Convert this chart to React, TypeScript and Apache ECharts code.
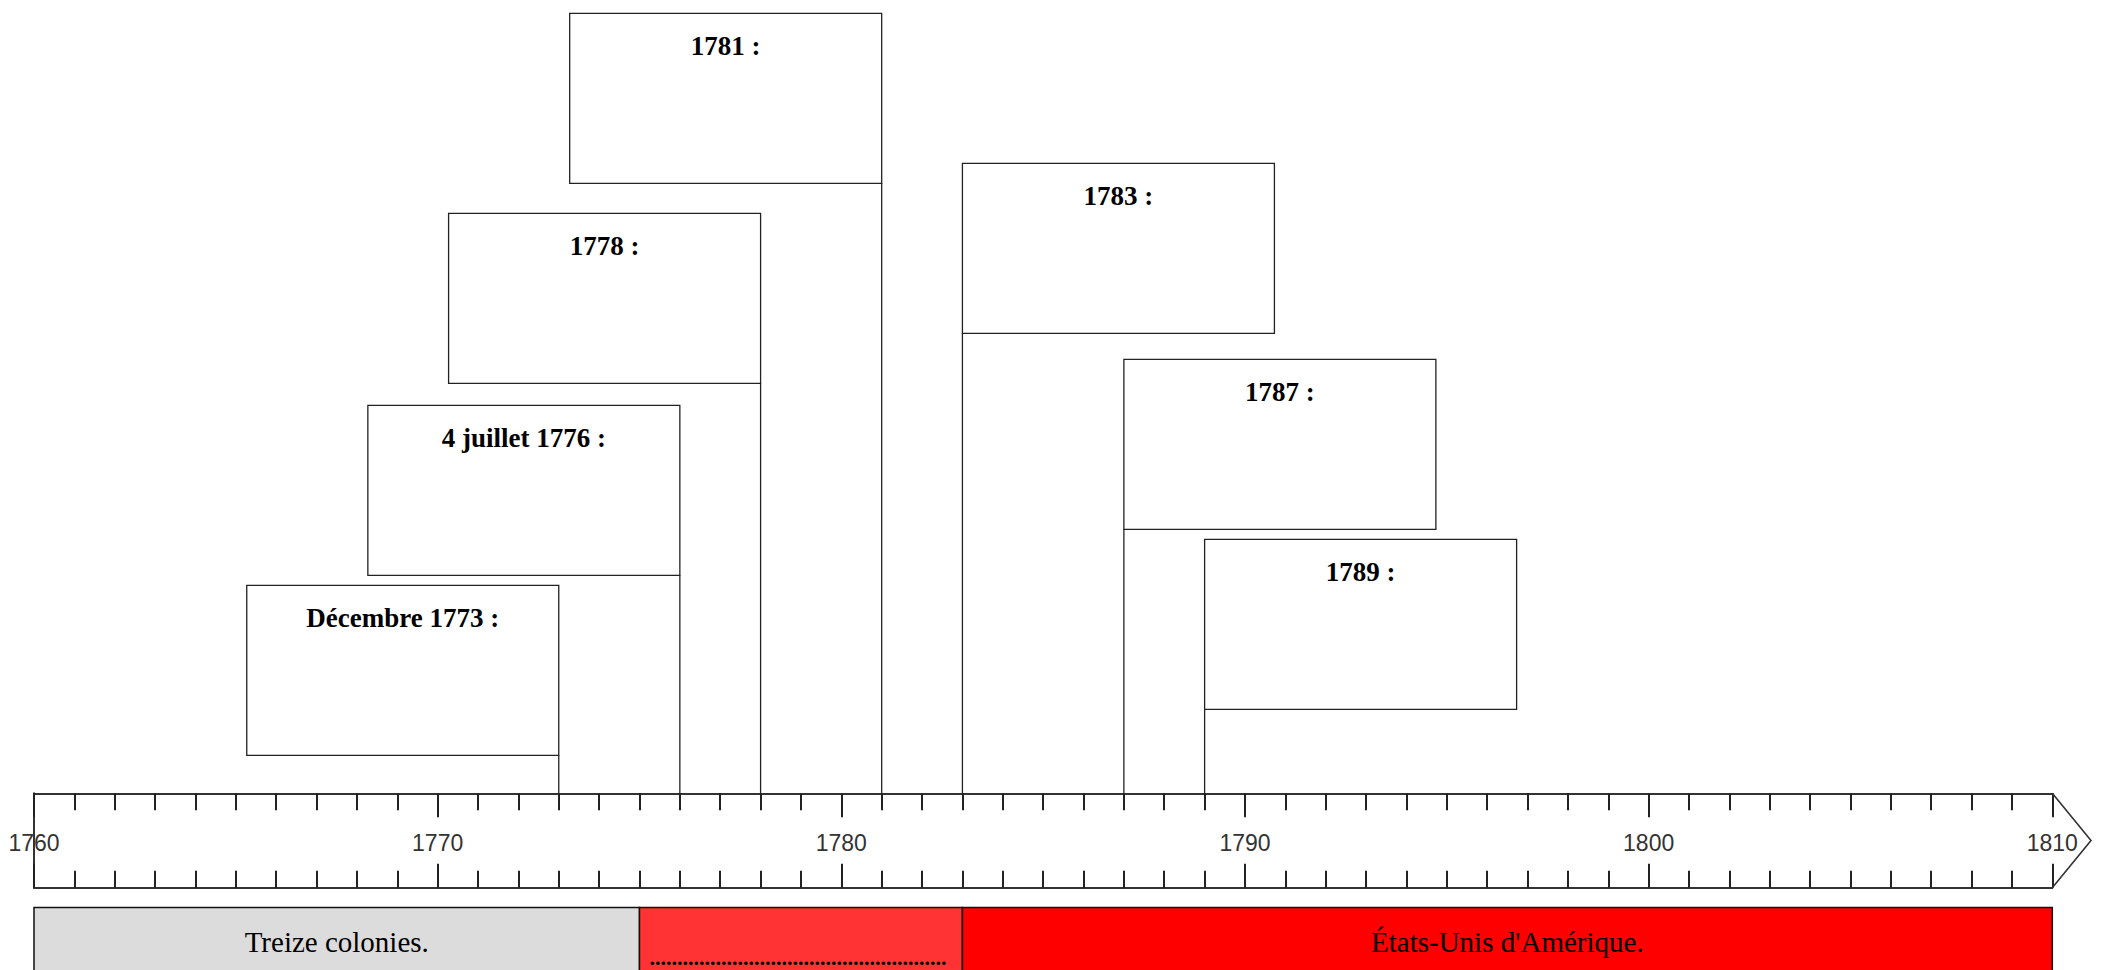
import React, { useEffect, useRef } from "react";
import * as echarts from "echarts";

// ---- data ----
const axisMin = 1760;
const axisMax = 1810;
const majorStep = 10;
const eventYears = [1773, 1776, 1778, 1781, 1783, 1787, 1789];
const eventLabels = [
  "Décembre 1773 :",
  "4 juillet 1776 :",
  "1778 :",
  "1781 :",
  "1783 :",
  "1787 :",
  "1789 :",
];
const periodStarts = [1760, 1775, 1783];
const periodEnds = [1775, 1783, 1810];
const periodLabels = ["Treize colonies.", "", "États-Unis d'Amérique."];
const blankFill = "......................................................";

// ---- layout (not data) ----
const boxLift = [38, 218, 410, 610, 460, 264, 84]; // px of box bottom above the ribbon
const boxW = 312;
const boxH = 170;
const periodColors = ["#DCDCDC", "#FF3333", "#FF0000"];
const ribbonTop = 793.3;
const ribbonH = 94.4;
const gridLeft = 34;
const gridWidth = 2018.3;
const bandTop = 907.5;

const serif = "'Liberation Serif', 'Times New Roman', serif";
const sansNarrow = "'Liberation Sans Narrow', 'Arial Narrow', 'Liberation Sans', Arial, sans-serif";

export default function App() {
  const ref = useRef<HTMLDivElement>(null);

  useEffect(() => {
    if (!ref.current) return;
    const chart = echarts.init(ref.current, undefined, { renderer: "svg" });

    const tickAxisCommon = {
      type: "value",
      gridIndex: 1,
      min: axisMin,
      max: axisMax,
      interval: majorStep,
      splitLine: { show: false },
      axisLine: { show: true, onZero: false, lineStyle: { color: "#333", width: 2 } },
      axisTick: { show: true, inside: true, length: 24, lineStyle: { color: "#222", width: 2 } },
      minorTick: { show: true, splitNumber: 10, length: 17, lineStyle: { color: "#222", width: 2 } },
      minorSplitLine: { show: false },
    };

    const option: any = {
      animation: false,
      backgroundColor: "#ffffff",
      grid: [
        { left: gridLeft, top: 0, width: gridWidth, height: ribbonTop, outerBoundsMode: "none" },
        { left: gridLeft, top: ribbonTop, width: gridWidth, height: ribbonH, outerBoundsMode: "none" },
        { left: gridLeft, top: bandTop, width: gridWidth, height: 70, outerBoundsMode: "none" },
      ],
      xAxis: [
        { type: "value", gridIndex: 0, min: axisMin, max: axisMax, show: false },
        {
          ...tickAxisCommon,
          position: "top",
          axisLabel: {
            show: true,
            inside: true,
            margin: 50,
            verticalAlign: "middle",
            fontSize: 23,
            fontFamily: sansNarrow,
            color: "#333",
            showMinLabel: true,
            showMaxLabel: true,
            formatter: (v: number) => String(v),
          },
        },
        {
          ...tickAxisCommon,
          position: "bottom",
          axisLabel: { show: false },
        },
        { type: "value", gridIndex: 2, min: axisMin, max: axisMax, show: false },
      ],
      yAxis: [
        { type: "value", gridIndex: 0, min: 0, max: ribbonTop, show: false },
        {
          type: "value",
          gridIndex: 1,
          min: 0,
          max: 1,
          axisLine: { show: true, onZero: false, lineStyle: { color: "#333", width: 2 } },
          axisTick: { show: false },
          axisLabel: { show: false },
          splitLine: { show: false },
        },
        { type: "value", gridIndex: 2, min: 0, max: 1, show: false },
      ],
      series: [
        {
          type: "custom",
          name: "events",
          xAxisIndex: 0,
          yAxisIndex: 0,
          clip: false,
          data: eventYears.map((y, i) => [y, boxLift[i]]),
          renderItem: (params: any, api: any) => {
            const year = api.value(0);
            const lift = api.value(1);
            const pBottom = api.coord([year, lift]);
            const pAxis = api.coord([year, 0]);
            const rightAligned = year < 1782;
            const x0 = rightAligned ? pBottom[0] - boxW : pBottom[0];
            const top = pBottom[1] - boxH;
            return {
              type: "group",
              children: [
                {
                  type: "rect",
                  shape: { x: x0, y: top, width: boxW, height: boxH },
                  style: { fill: "#ffffff", stroke: "#222", lineWidth: 1.3 },
                },
                {
                  type: "line",
                  shape: { x1: pBottom[0], y1: pBottom[1], x2: pAxis[0], y2: pAxis[1] },
                  style: { stroke: "#222", lineWidth: 1.3 },
                },
                {
                  type: "text",
                  style: {
                    text: eventLabels[params.dataIndex],
                    x: x0 + boxW / 2,
                    y: top + 33,
                    fill: "#000",
                    fontSize: 27,
                    fontWeight: "bold",
                    fontFamily: serif,
                    align: "center",
                    verticalAlign: "middle",
                  },
                },
              ],
            };
          },
        },
        {
          type: "custom",
          name: "arrow",
          xAxisIndex: 1,
          yAxisIndex: 1,
          clip: false,
          data: [[axisMax, 0]],
          renderItem: (params: any, api: any) => {
            const t = api.coord([api.value(0), 1]);
            const b = api.coord([api.value(0), 0]);
            return {
              type: "polyline",
              shape: {
                points: [
                  [t[0], t[1]],
                  [t[0] + 38.7, (t[1] + b[1]) / 2],
                  [b[0], b[1]],
                ],
              },
              style: { fill: "none", stroke: "#333", lineWidth: 1.6 },
            };
          },
        },
        {
          type: "custom",
          name: "periods",
          xAxisIndex: 3,
          yAxisIndex: 2,
          clip: false,
          data: periodStarts.map((s, i) => [s, periodEnds[i]]),
          renderItem: (params: any, api: any) => {
            const i = params.dataIndex;
            const p0 = api.coord([api.value(0), 0]);
            const p1 = api.coord([api.value(1), 0]);
            const top = params.coordSys.y;
            const label = periodLabels[i];
            const children: any[] = [
              {
                type: "rect",
                shape: { x: p0[0], y: top, width: p1[0] - p0[0], height: 90 },
                style: { fill: periodColors[i], stroke: "#111", lineWidth: 1.5 },
              },
            ];
            if (label) {
              children.push({
                type: "text",
                style: {
                  text: label,
                  x: (p0[0] + p1[0]) / 2,
                  y: top + 34,
                  fill: "#000",
                  fontSize: 29,
                  fontFamily: serif,
                  align: "center",
                  verticalAlign: "middle",
                },
              });
            } else {
              children.push({
                type: "text",
                style: {
                  text: blankFill,
                  x: p0[0] + 10,
                  y: top + 50,
                  fill: "#000",
                  fontSize: 22,
                  fontWeight: "bold",
                  fontFamily: serif,
                  align: "left",
                  verticalAlign: "middle",
                },
              });
            }
            return { type: "group", children };
          },
        },
      ],
    };

    chart.setOption(option);
    return () => chart.dispose();
  }, []);

  return (
    <div
      ref={ref}
      style={{ position: "absolute", left: 0, top: 0, width: 2109, height: 970, background: "#fff" }}
    />
  );
}
